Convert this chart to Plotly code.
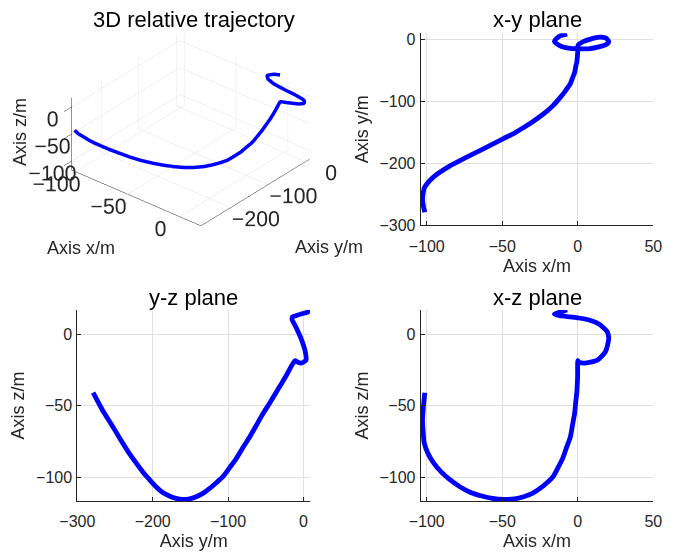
import plotly.graph_objects as go

# Relative trajectory samples (metres)
x_m = [-7, -12, -15.5, -12, -5, 0, 7, 14, 19.5, 20.5, 18.4, 13, 4, 0.5,
       0, -0.1, -0.3, -0.6, -1.4, -2.1, -3.5, -4.9, -7.4, -10, -13.1, -16.4, -20.4, -25,
       -30.1, -35.8, -41.9, -49.2, -56.4, -63.5, -70.9, -78.1, -84.9, -90.6, -95.6, -99.2,
       -101.7, -102.4, -102.8, -102.4, -101.3]
y_m = [8.5, 5.5, -3, -10, -14.5, -15, -15, -12, -7, -3, 2.5, 3.5, -3, -8,
       -11.1, -22.2, -28.9, -35.6, -44.4, -53.3, -62.2, -71.1, -80, -88.9, -97.8, -106.7, -115.6, -124.4,
       -133.3, -142.2, -151, -160, -168.9, -177.8, -186.7, -195.6, -204.4, -213.3, -222.2, -231.1,
       -240, -248.9, -257.8, -266.7, -279]
z_m = [17, 15.5, 14.2, 13, 12.2, 11.5, 10.2, 7.2, 1.8, -3, -12, -18, -20.2, -19.3,
       -18.4, -28.4, -34.3, -40.1, -47.8, -55.2, -63.4, -71.6, -79, -86.7, -93.2, -99.5, -103.7, -107.7,
       -111.2, -113.5, -115, -115.4, -114.7, -113, -110.5, -106.5, -101.4, -96, -89.7, -83.2,
       -75.8, -68, -60.4, -52.9, -40.8]

titles = ["3D relative trajectory", "x-y plane", "y-z plane", "x-z plane"]
x_ticks = [-100, -50, 0, 50]
y_ticks = [-300, -200, -100, 0]
z_ticks = [-100, -50, 0]
y3d_ticks = [-200, -100, 0]

W, H = 677, 555
FONT = "Liberation Sans"
TXT = "#262626"
GRID = "#dfdfdf"
BLUE = "#0000ff"

def px_dom(a, b):
    return [a / W, b / W]

def py_dom(top, bottom):
    return [1 - bottom / H, 1 - top / H]

fig = go.Figure()

line2d = dict(color=BLUE, width=4.8, shape="spline", smoothing=0.6)
fig.add_trace(go.Scatter(x=x_m, y=y_m, mode="lines", line=line2d, xaxis="x2", yaxis="y2", showlegend=False))
fig.add_trace(go.Scatter(x=y_m, y=z_m, mode="lines", line=line2d, xaxis="x3", yaxis="y3", showlegend=False))
fig.add_trace(go.Scatter(x=x_m, y=z_m, mode="lines", line=line2d, xaxis="x4", yaxis="y4", showlegend=False))
fig.add_trace(go.Scatter3d(x=x_m, y=y_m, z=z_m, mode="lines", line=dict(color=BLUE, width=7),
                           scene="scene", showlegend=False))

def ax2d(domain, rng, ticks, title, anchor, standoff, lblstand):
    return dict(domain=domain, range=rng, tickvals=ticks, anchor=anchor, automargin=False,
                showline=True, linecolor=TXT, linewidth=1, mirror=False,
                ticks="inside", ticklen=4, tickcolor=TXT, ticklabelstandoff=lblstand,
                showgrid=True, gridcolor=GRID, gridwidth=1, zeroline=False,
                tickfont=dict(family=FONT, size=16, color=TXT),
                title=dict(text=title, font=dict(family=FONT, size=18, color=TXT), standoff=standoff))

LX = px_dom(77.3, 310)
RX = px_dom(420.7, 653.3)
TY = py_dom(33.3, 225.3)
BY = py_dom(310, 501)

fig.update_layout(
    xaxis2=ax2d(RX, [-104, 50], x_ticks, "Axis x/m", "y2", 5, 6),
    yaxis2=ax2d(TY, [-300, 10], y_ticks, "Axis y/m", "x2", 6, 1),
    xaxis3=ax2d(LX, [-300, 8.8], y_ticks, "Axis y/m", "y3", 5, 6),
    yaxis3=ax2d(BY, [-116.5, 17], z_ticks, "Axis z/m", "x3", 6, 1),
    xaxis4=ax2d(RX, [-104, 50], x_ticks, "Axis x/m", "y4", 5, 6),
    yaxis4=ax2d(BY, [-116.5, 17], z_ticks, "Axis z/m", "x4", 6, 1),
)

def ax3d(rng, ticks, tlen, tcol):
    return dict(range=rng, tickvals=ticks, showbackground=False,
                showgrid=True, gridcolor=GRID, gridwidth=1,
                showline=True, linecolor=TXT, linewidth=1,
                zeroline=False, showspikes=False, tickangle=0,
                ticks="outside", ticklen=tlen, tickcolor=tcol,
                tickfont=dict(family=FONT, size=16, color=TXT),
                title=dict(text=""))

r = 1.5
fig.update_layout(
    scene=dict(
        domain=dict(x=[0.027, 0.537], y=[0.55, 0.985]),
        xaxis=ax3d([-104, 20.6], z_ticks, 15, "rgba(0,0,0,0)"),
        yaxis=ax3d([-279, 10], y3d_ticks, 12, "rgba(0,0,0,0)"),
        zaxis=ax3d([-116.5, 17], z_ticks, 0, TXT),
        aspectmode="manual", aspectratio=dict(x=1.4, y=1.4, z=0.7),
        camera=dict(eye=dict(x=0.551 * r, y=-0.657 * r, z=0.515 * r),
                    up=dict(x=0, y=0, z=1), center=dict(x=0, y=0, z=0),
                    projection=dict(type="orthographic")),
        bgcolor="white",
    )
)

title_pos = [(193.5, 20), (537, 20), (193.5, 297), (537, 297)]
for t, (cx, cy) in zip(titles, title_pos):
    fig.add_annotation(text=t, x=cx / W, y=1 - cy / H, xref="paper", yref="paper",
                       xanchor="center", yanchor="middle", showarrow=False,
                       font=dict(family=FONT, size=22, color="black"))

# axis titles of the 3D panel
labels3d = [("Axis x/m", 81, 248, 0), ("Axis y/m", 329, 247, 0), ("Axis z/m", 20, 132, -90)]
for t, cx, cy, ang in labels3d:
    fig.add_annotation(text=t, x=cx / W, y=1 - cy / H, xref="paper", yref="paper",
                       xanchor="center", yanchor="middle", showarrow=False, textangle=ang,
                       font=dict(family=FONT, size=18, color=TXT))

fig.update_layout(width=W, height=H, margin=dict(l=0, r=0, t=0, b=0, autoexpand=False),
                  paper_bgcolor="white", plot_bgcolor="white", showlegend=False)

fig.write_html("out.html")
